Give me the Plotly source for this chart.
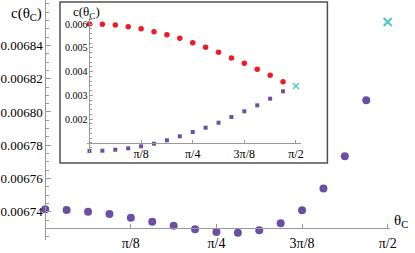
import numpy as np
import plotly.graph_objects as go

# ---- data ----
main_k = list(range(16))
main_vals = [0.0067414, 0.0067410, 0.0067400, 0.0067386, 0.0067364, 0.0067340,
             0.0067316, 0.0067294, 0.0067278, 0.0067273, 0.0067288, 0.0067330,
             0.0067408, 0.0067539, 0.0067734, 0.0068071]
main_cross_val = 0.0068541

inset_red = [0.006000, 0.005987, 0.005958, 0.005886, 0.005802, 0.005676,
             0.005549, 0.005398, 0.005213, 0.005019, 0.004808, 0.004568,
             0.004345, 0.004093, 0.003840, 0.003570]
inset_purple = [0.000653, 0.000665, 0.000707, 0.000766, 0.000851, 0.000960,
                0.001103, 0.001272, 0.001453, 0.001634, 0.001844, 0.002084,
                0.002324, 0.002577, 0.002855, 0.003166]
inset_cross_val = 0.00339

x_tick_vals = [np.pi/8, np.pi/4, 3*np.pi/8, np.pi/2]
x_tick_text = ["π/8", "π/4", "3π/8", "π/2"]
main_y_ticks = [0.00674, 0.00676, 0.00678, 0.00680, 0.00682, 0.00684]
inset_y_ticks = [0.002, 0.003, 0.004, 0.005, 0.006]

theta = [k*np.pi/32 for k in main_k]

W, H = 415, 253
FONT = "Liberation Serif"
AX = "#999999"
PURPLE = "#6a4fa5"
RED = "#ec1c24"
CYAN = "#4fc4c9"

fig = go.Figure()

fig.add_trace(go.Scatter(x=theta, y=main_vals, mode="markers",
                         marker=dict(color=PURPLE, size=8), cliponaxis=False,
                         xaxis="x", yaxis="y"))
fig.add_trace(go.Scatter(x=[np.pi/2], y=[main_cross_val], mode="markers",
                         marker=dict(color=CYAN, size=8, symbol="x-thin",
                                     line=dict(color=CYAN, width=2)),
                         cliponaxis=False, xaxis="x", yaxis="y"))

fig.add_trace(go.Scatter(x=theta, y=inset_red, mode="markers",
                         marker=dict(color=RED, size=5.5), cliponaxis=False,
                         xaxis="x2", yaxis="y2"))
fig.add_trace(go.Scatter(x=theta, y=inset_purple, mode="markers",
                         marker=dict(color=PURPLE, size=4, symbol="square"),
                         cliponaxis=False, xaxis="x2", yaxis="y2"))
fig.add_trace(go.Scatter(x=[np.pi/2], y=[inset_cross_val], mode="markers",
                         marker=dict(color=CYAN, size=6, symbol="x-thin",
                                     line=dict(color=CYAN, width=1.5)),
                         cliponaxis=False, xaxis="x2", yaxis="y2"))

# main axes geometry (pixels -> paper)
px_per_rad = (393.3 - 45) / (np.pi/2)
mx0, mx1 = 45, 396
my_top, my_bot = 0, 240
py_per_val = 166.2 / 0.0001
main_x_range = [(mx0 - 45)/px_per_rad, (mx1 - 45)/px_per_rad]
main_y_range = [0.00674 - (my_bot - 211.7)/py_per_val, 0.00674 + (211.7 - my_top)/py_per_val]

ipx_per_rad = (300 - 90) / (np.pi/2)
ix0, ix1 = 87, 305
iy_top, iy_bot = 18, 153
ipy_per_val = 23.75 / 0.001
inset_x_range = [(ix0 - 90)/ipx_per_rad, (ix1 - 90)/ipx_per_rad]
inset_y_range = [0.006 - (iy_bot - 24)/ipy_per_val, 0.006 + (24 - iy_top)/ipy_per_val]

common = dict(showgrid=False, zeroline=False, showline=True, linecolor=AX,
              linewidth=1, ticks="inside", tickcolor=AX, tickwidth=1)

fig.update_layout(
    width=W, height=H, margin=dict(l=0, r=0, t=0, b=0),
    paper_bgcolor="white", plot_bgcolor="rgba(0,0,0,0)", showlegend=False,
    font=dict(family=FONT, color="black"),
    xaxis=dict(**common, domain=[mx0/W, mx1/W], range=main_x_range,
               anchor="free", position=1 - 228.3/H,
               tickvals=x_tick_vals, ticktext=x_tick_text, ticklen=4,
               tickfont=dict(size=14, family=FONT), ticklabelstandoff=2),
    yaxis=dict(**common, domain=[1 - my_bot/H, 1 - my_top/H], range=main_y_range,
               anchor="free", position=45/W,
               tickvals=main_y_ticks, tickformat=".5f", ticklen=5,
               tickfont=dict(size=13, family=FONT),
               minor=dict(dtick=0.000005, ticklen=2.5, ticks="inside", tickcolor=AX,
                          tick0=0.00674)),
    xaxis2=dict(**common, domain=[ix0/W, ix1/W], range=inset_x_range,
                anchor="free", position=1 - 142.75/H,
                tickvals=x_tick_vals, ticktext=x_tick_text, ticklen=3,
                tickfont=dict(size=12, family=FONT), ticklabelstandoff=0),
    yaxis2=dict(**common, domain=[1 - iy_bot/H, 1 - iy_top/H], range=inset_y_range,
                anchor="free", position=90/W,
                tickvals=inset_y_ticks, tickformat=".3f", ticklen=3,
                tickfont=dict(size=10, family=FONT),
                minor=dict(dtick=0.0002, ticklen=1.5, ticks="inside", tickcolor=AX,
                           tick0=0)),
    shapes=[dict(type="rect", xref="paper", yref="paper",
                 x0=60/W, x1=332/W, y0=1 - 163/H, y1=1 - 2/H,
                 fillcolor="white", line=dict(color="#505050", width=1.5),
                 layer="below")],
    annotations=[
        dict(text="c(θ<sub>C</sub>)", xref="paper", yref="paper",
             x=44/W, y=1 - 3/H, xanchor="right", yanchor="top", showarrow=False,
             font=dict(size=15, family=FONT)),
        dict(text="c(θ<sub>C</sub>)", xref="paper", yref="paper",
             x=71/W, y=1 - 2/H, xanchor="left", yanchor="top", showarrow=False,
             font=dict(size=13, family=FONT)),
        dict(text="θ<sub>C</sub>", xref="paper", yref="paper",
             x=398/W, y=1 - 210/H, xanchor="left", yanchor="top", showarrow=False,
             font=dict(size=15, family=FONT)),
    ],
)

fig.write_html("out.html", config={"displayModeBar": False},
               post_script="document.body.style.margin='0';")
